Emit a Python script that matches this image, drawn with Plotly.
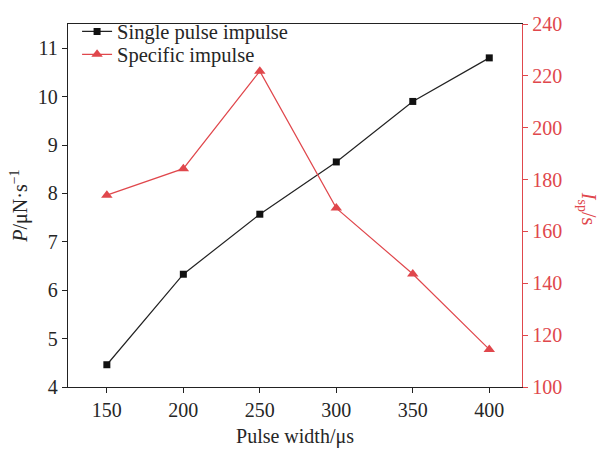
import plotly.graph_objects as go

pulse_width = [150, 200, 250, 300, 350, 400]
single_pulse_impulse = [4.46, 6.33, 7.57, 8.65, 9.90, 10.80]
specific_impulse = [174, 184.2, 221.8, 169, 143.6, 114.5]

RED = "#e0474c"
FONT = "Liberation Serif"

fig = go.Figure()
fig.add_trace(go.Scatter(
    x=pulse_width, y=single_pulse_impulse, name="Single pulse impulse",
    mode="lines+markers", line=dict(color="#222222", width=1.2),
    marker=dict(symbol="square", size=7, color="#111111"), yaxis="y",
    legend="legend"))
fig.add_trace(go.Scatter(
    x=pulse_width, y=specific_impulse, name="Specific impulse",
    mode="lines+markers", line=dict(color=RED, width=1.2),
    marker=dict(symbol="triangle-up", size=10, color=RED), yaxis="y2",
    legend="legend2"))

leg_common = dict(xanchor="left", yanchor="middle", bgcolor="rgba(0,0,0,0)",
                  font=dict(size=20.5, family=FONT, color="#262626"),
                  itemwidth=30)

fig.update_layout(
    width=601, height=456,
    margin=dict(l=68, r=79, t=19, b=69),
    paper_bgcolor="white", plot_bgcolor="white",
    font=dict(family=FONT, size=20, color="#262626"),
    showlegend=True,
    legend=dict(x=0.02, y=0.979, **leg_common),
    legend2=dict(x=0.02, y=0.916, **leg_common),
    xaxis=dict(range=[124.6, 421.4], tickvals=pulse_width, ticks="outside",
               ticklen=5, tickcolor="#222", showline=True, linecolor="#222",
               linewidth=1.3, mirror=True, showgrid=False, zeroline=False,
               tickfont=dict(size=20, family=FONT),
               title=dict(text="Pulse width/μs", standoff=8,
                          font=dict(size=20, family=FONT))),
    yaxis=dict(range=[4, 11.5], tickvals=[4, 5, 6, 7, 8, 9, 10, 11],
               ticks="outside", ticklen=5, tickcolor="#222", showline=True,
               linecolor="#222", linewidth=1.3, showgrid=False,
               zeroline=False, tickfont=dict(size=20, family=FONT),
               title=dict(text="<i>P</i>/μN·s<sup>−1</sup>", standoff=4,
                          font=dict(size=20, family=FONT))),
    yaxis2=dict(range=[100, 240], tickvals=list(range(100, 241, 20)),
                overlaying="y", side="right", ticks="outside", ticklen=5,
                tickcolor=RED, showline=True, linecolor=RED, linewidth=1.3,
                showgrid=False, zeroline=False,
                tickfont=dict(color=RED, size=20, family=FONT)),
)
fig.add_annotation(
    text="<i>I</i><sub>sp</sub>/s", xref="paper", yref="paper",
    x=1.146, y=0.49, xanchor="center", yanchor="middle",
    showarrow=False, textangle=90,
    font=dict(color=RED, size=20, family=FONT))

fig.write_html("out.html")
